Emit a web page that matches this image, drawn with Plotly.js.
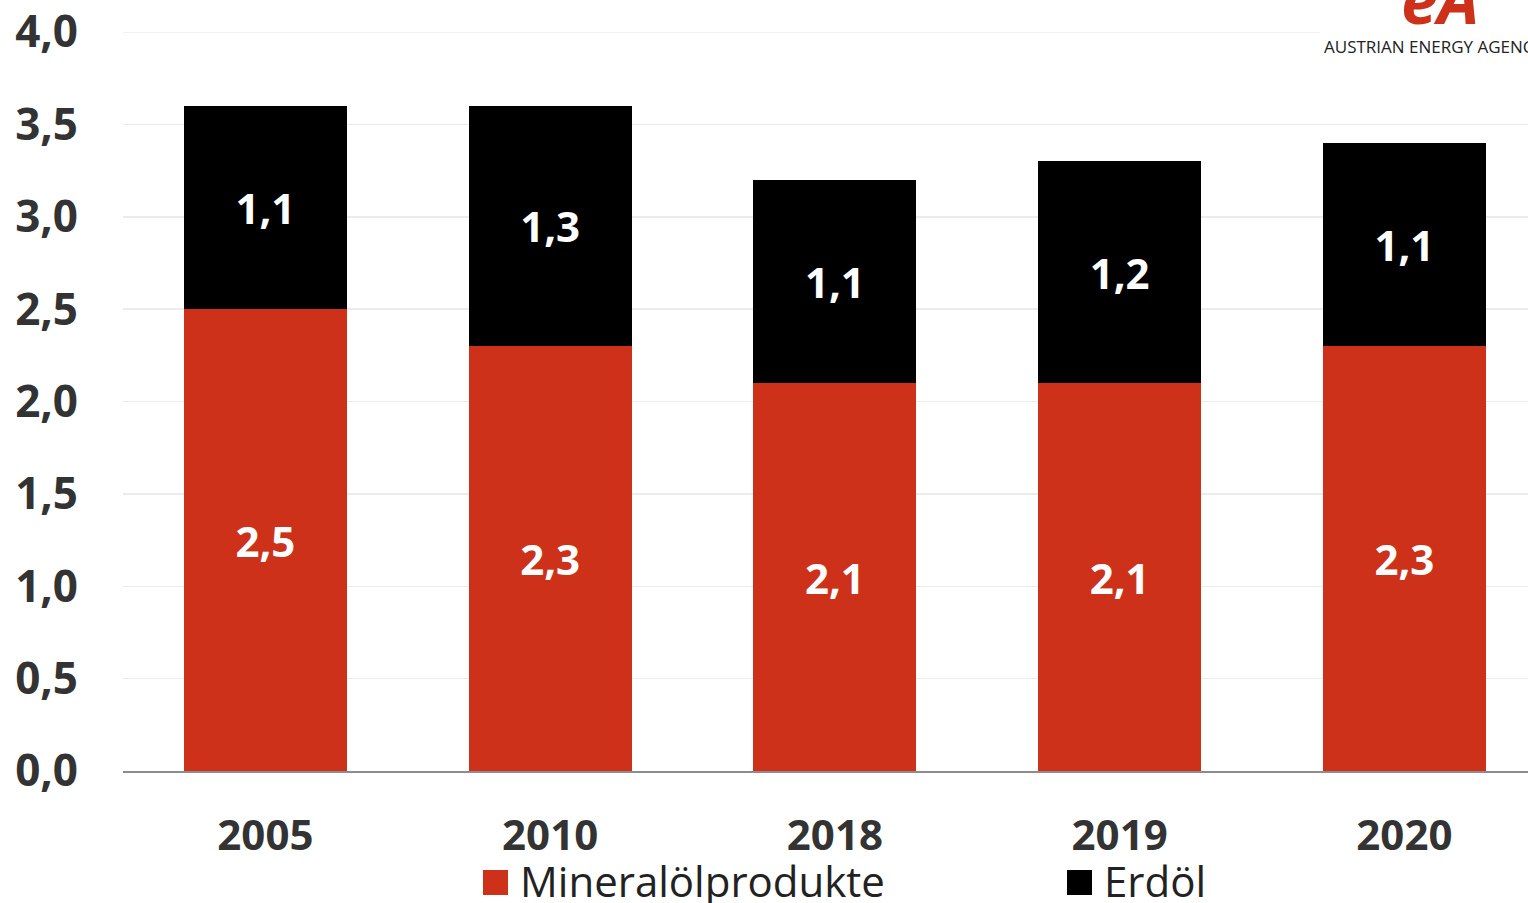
<!DOCTYPE html>
<html>
<head>
<meta charset="utf-8">
<script src="https://cdn.plot.ly/plotly-3.0.1.min.js"></script>
<style>html,body{margin:0;padding:0;background:#fff;}#chart{width:1528px;height:903px;}</style>
</head>
<body>
<div id="chart"></div>
<script>
const years = ["2005", "2010", "2018", "2019", "2020"];
const mineraloelprodukte = [2.5, 2.3, 2.1, 2.1, 2.3];
const erdoel = [1.1, 1.3, 1.1, 1.2, 1.1];
const seriesNames = ["Mineralölprodukte", "Erdöl"];
const seriesColors = ["#CD3119", "#000000"];
const yTicks = [0, 0.5, 1, 1.5, 2, 2.5, 3, 3.5, 4];
const fmt = v => v.toFixed(1).replace(".", ",");

const W = 1528, H = 903;
const mL = 123, mR = 0, mT = 32, mB = 132;
const plotW = W - mL - mR, plotH = H - mT - mB;
const px = x => (x - mL) / plotW;
const py = y => (H - mB - y) / plotH;

const font = "'Open Sans', 'DejaVu Sans', sans-serif";

function barTrace(vals, i) {
  return {
    type: "bar", x: years, y: vals, name: seriesNames[i],
    marker: {color: seriesColors[i], line: {width: 0}},
    text: vals.map(fmt), textposition: "inside", insidetextanchor: "middle",
    textangle: 0, constraintext: "none",
    textfont: {color: "#ffffff", size: 42, family: font, weight: 700},
    hoverinfo: "x+y", showlegend: false
  };
}

const data = [barTrace(mineraloelprodukte, 0), barTrace(erdoel, 1)];

// manual legend (large square markers)
const legendItems = [
  {sx: 483, tx: 518},
  {sx: 1067, tx: 1102}
];
const shapes = [];
const annotations = [];
// top gridline at 4,0 (stops at logo)
shapes.push({type: "line", xref: "paper", yref: "y", x0: 0, x1: px(1320), y0: 4, y1: 4,
  line: {color: "#ececec", width: 1.5}, layer: "below"});
legendItems.forEach((it, i) => {
  shapes.push({type: "rect", xref: "paper", yref: "paper",
    x0: px(it.sx), x1: px(it.sx + 25), y0: py(895), y1: py(870),
    fillcolor: seriesColors[i], line: {width: 0}});
  annotations.push({xref: "paper", yref: "paper", x: px(it.tx), y: py(880),
    xanchor: "left", yanchor: "middle", showarrow: false, text: seriesNames[i],
    font: {family: font, size: 42, color: "#222222"}});
});
// logo area
annotations.push({xref: "paper", yref: "paper", x: px(1322), y: py(46),
  xanchor: "left", yanchor: "middle", showarrow: false, text: "AUSTRIAN ENERGY AGENCY",
  font: {family: font, size: 17, color: "#222222"}});
annotations.push({xref: "paper", yref: "paper", x: px(1440), y: py(-2),
  xanchor: "center", yanchor: "middle", showarrow: false, text: "<i><b>eA</b></i>",
  font: {family: font, size: 66, color: "#CD3119"}});

const layout = {
  width: W, height: H,
  margin: {l: mL, r: mR, t: mT, b: mB, pad: 0},
  paper_bgcolor: "#ffffff", plot_bgcolor: "#ffffff",
  barmode: "stack", bargap: 0.428,
  showlegend: false,
  font: {family: font},
  xaxis: {
    type: "category", range: [-0.5, -0.5 + plotW / 284.75],
    showgrid: false, zeroline: false,
    showline: true, linecolor: "#8c8c8c", linewidth: 2,
    ticks: "", ticklabelstandoff: 27,
    tickfont: {family: font, size: 42, color: "#333333", weight: 700}
  },
  yaxis: {
    range: [0, 4.0], tickvals: yTicks, ticktext: yTicks.map(fmt),
    showgrid: true, gridcolor: "#ececec", gridwidth: 1.5,
    zeroline: false, showline: false, ticks: "", ticklabelstandoff: 44,
    tickfont: {family: font, size: 44, color: "#333333", weight: 700}
  },
  shapes: shapes,
  annotations: annotations
};

Plotly.newPlot("chart", data, layout, {staticPlot: true, displayModeBar: false});
</script>
</body>
</html>
